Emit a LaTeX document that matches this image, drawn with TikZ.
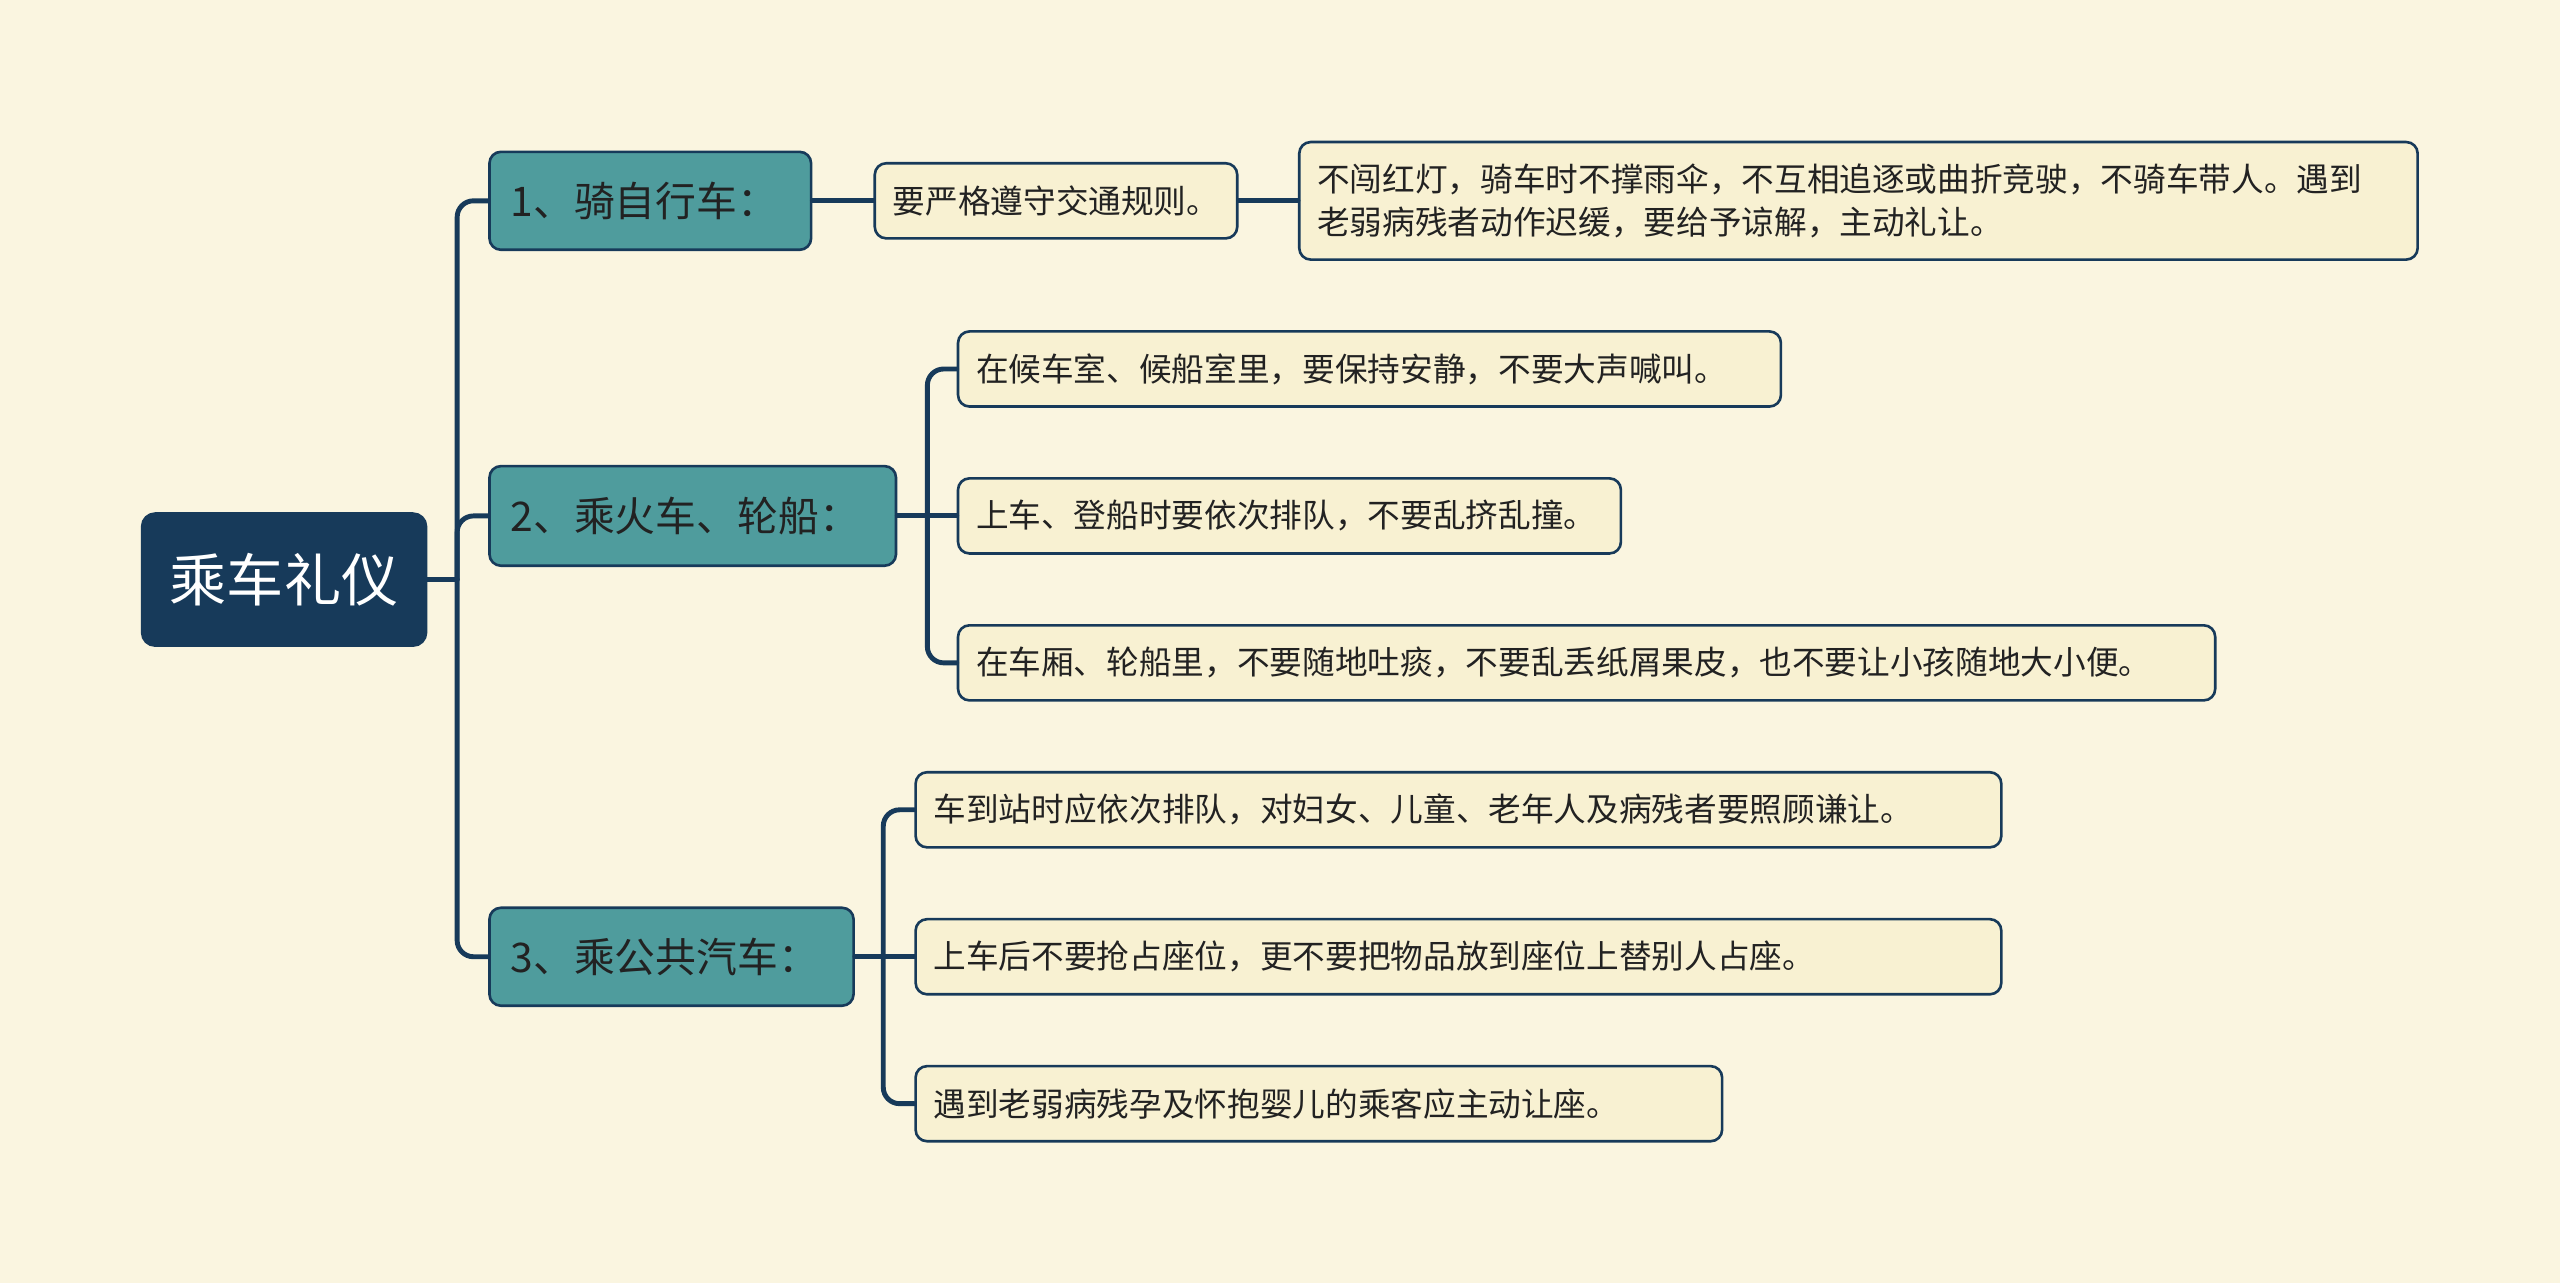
\documentclass[tikz,border=0pt]{standalone}
\usepackage{fontspec}
\newfontfamily\cjk{Noto Sans CJK SC}
\definecolor{bgc}{HTML}{FAF5E0}
\definecolor{leafc}{HTML}{F8F1D2}
\definecolor{tealc}{HTML}{4F9C9D}
\definecolor{navyc}{HTML}{173A5A}
\definecolor{txtc}{HTML}{222222}
\tikzset{
  rootbox/.style={fill=navyc, draw=navyc, line width=1.5pt, rounded corners=8pt, text=white,
    font=\cjk\fontsize{35}{40}\selectfont, minimum width=174pt, minimum height=81pt, inner sep=0pt},
  lvlbox/.style={fill=tealc, draw=navyc, line width=1.6pt, rounded corners=7pt, text=txtc,
    font=\cjk\fontsize{25}{30}\selectfont, minimum height=60pt, anchor=west, inner xsep=13pt, inner ysep=0pt, align=left},
  leafbox/.style={fill=leafc, draw=navyc, line width=1.6pt, rounded corners=7pt, text=txtc,
    font=\cjk\fontsize{20}{26}\selectfont, minimum height=46pt, anchor=west, inner xsep=11pt, inner ysep=0pt, align=left},
  conn/.style={draw=navyc, line width=3pt, line cap=round},
  bentconn/.style={conn, rounded corners=10pt}
}
\begin{document}
\begin{tikzpicture}[x=1pt,y=-1pt]
\fill[bgc] (0,0) rectangle (1568,786);
\useasboundingbox (0,0) rectangle (1568,786);

\node[rootbox] (root) at (174,355) {乘车礼仪};

\node[lvlbox, text width=171pt] (n1) at (299,123) {1、骑自行车：};
\node[lvlbox, text width=223pt, minimum height=61pt] (n2) at (299,316) {2、乘火车、轮船：};
\node[lvlbox, text width=197pt] (n3) at (299,586) {3、乘公共汽车：};

\node[leafbox, text width=200pt] (a1) at (535,123) {\mbox{要严格遵守交通规则。}};
\node[leafbox, text width=663pt, minimum height=72pt] (a2) at (795,123) {\mbox{不闯红灯，骑车时不撑雨伞，不互相追逐或曲折竞驶，不骑车带人。遇到}\\\mbox{老弱病残者动作迟缓，要给予谅解，主动礼让。}};

\node[leafbox, text width=482pt] (b1) at (586,226) {\mbox{在候车室、候船室里，要保持安静，不要大声喊叫。}};
\node[leafbox, text width=384pt] (b2) at (586,316) {\mbox{上车、登船时要依次排队，不要乱挤乱撞。}};
\node[leafbox, text width=748pt] (b3) at (586,406) {\mbox{在车厢、轮船里，不要随地吐痰，不要乱丢纸屑果皮，也不要让小孩随地大小便。}};

\node[leafbox, text width=643pt] (c1) at (560,496) {\mbox{车到站时应依次排队，对妇女、儿童、老年人及病残者要照顾谦让。}};
\node[leafbox, text width=643pt] (c2) at (560,586) {\mbox{上车后不要抢占座位，更不要把物品放到座位上替别人占座。}};
\node[leafbox, text width=472pt] (c3) at (560,676) {\mbox{遇到老弱病残孕及怀抱婴儿的乘客应主动让座。}};

\coordinate (t0) at (280,355);
\coordinate (t2) at (568,316);
\coordinate (t3) at (541,586);

\draw[conn] (root.east) -- (t0);
\foreach \c in {n1,n2,n3} { \draw[bentconn] (t0) |- (\c.west); }
\draw[conn] (n1.east) -- (a1.west);
\draw[conn] (a1.east) -- (a2.west);
\draw[conn] (n2.east) -- (b2.west);
\foreach \c in {b1,b3} { \draw[bentconn] (t2) |- (\c.west); }
\draw[conn] (n3.east) -- (c2.west);
\foreach \c in {c1,c3} { \draw[bentconn] (t3) |- (\c.west); }
\end{tikzpicture}
\end{document}
